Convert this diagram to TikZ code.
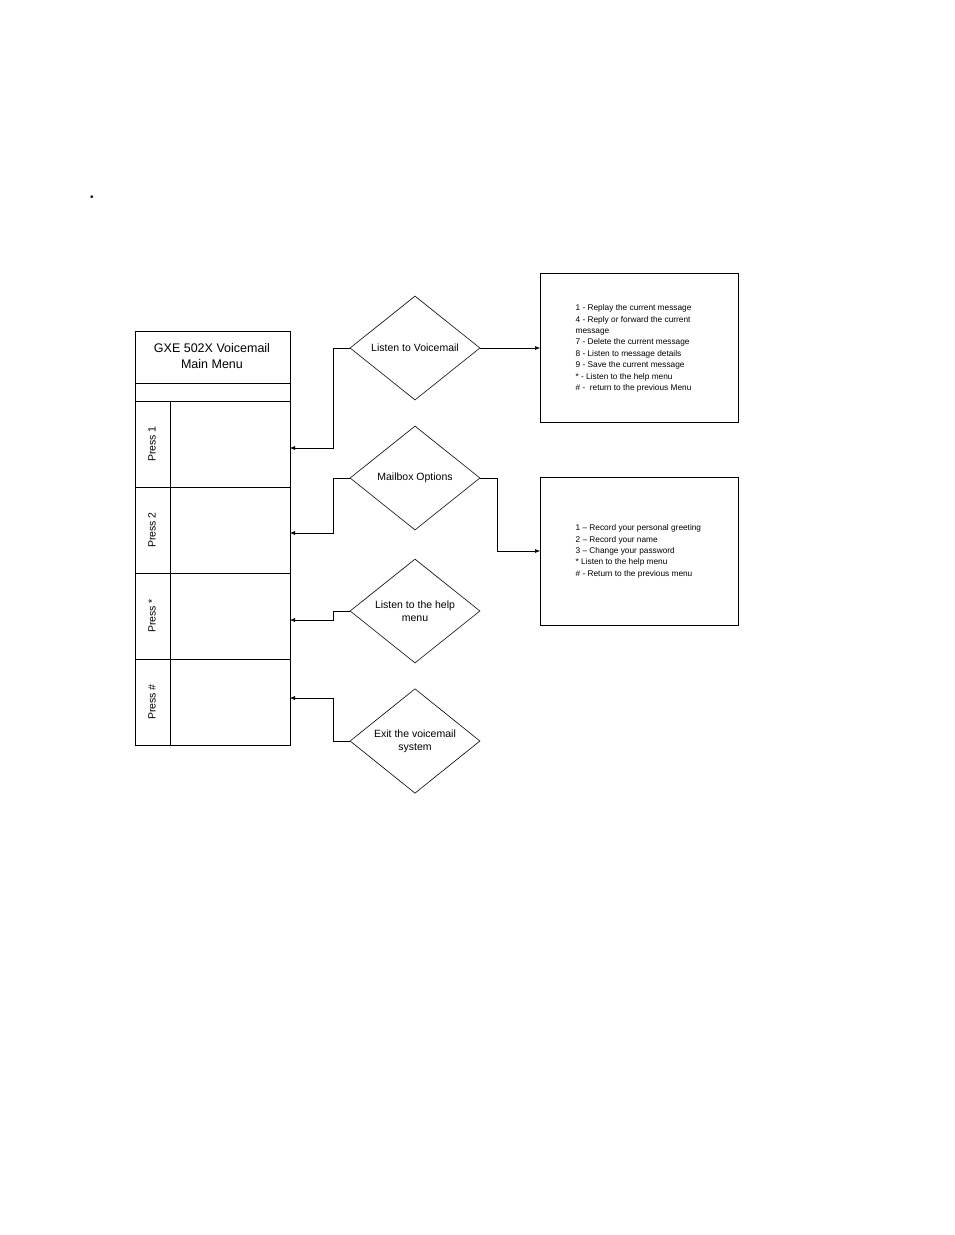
\documentclass[tikz,border=0pt]{standalone}
\usepackage{fontspec}
\setmainfont{Liberation Sans}
\usetikzlibrary{shapes.geometric,arrows.meta}
\tikzset{
	choice/.style={draw,diamond,minimum width=130pt,minimum height=104pt,inner sep=0pt,align=center,font=\fontsize{10.5}{13}\selectfont},
	optbox/.style={draw,minimum width=198pt,anchor=north west,inner sep=0pt},
	optlist/.style={align=left,anchor=north west,font=\fontsize{8.3}{11.4}\selectfont},
	link/.style={-{Latex[length=5pt,width=4pt]},line width=0.5pt}
}
\begin{document}
\begin{tikzpicture}[x=1pt,y=-1pt,line width=0.6pt]
	\useasboundingbox (0,0) rectangle (954,1235);
	\node (dot) at (92,198) {\textbullet};
	% main menu column
	\draw (135,331) rectangle (290,745);
	\draw (135,383) -- (290,383);
	\draw (135,401) -- (290,401);
	\draw (170,401) -- (170,745);
	\foreach \y in {487,573,659}
	{
		\draw (135,\y) -- (290,\y);
	}
	\node[align=center,font=\fontsize{12.5}{16}\selectfont] (title) at (212,356) {GXE 502X Voicemail\\Main Menu};
	\foreach \lbl/\y in {Press 1/444,Press 2/530,Press */616,Press \#/702}
	{
		\node[rotate=90,font=\fontsize{10.5}{13}\selectfont] at (152,\y) {\lbl};
	}
	\coordinate (in1) at (290,448);
	\coordinate (in2) at (290,533);
	\coordinate (in3) at (290,620);
	\coordinate (in4) at (290,698);
	% choices
	\node[choice] (listen) at (415,348) {Listen to Voicemail};
	\node[choice] (mailbox) at (415,478) {\raisebox{0pt}{Mailbox Options}};
	\node[choice] (help) at (415,611) {Listen to the help\\menu};
	\node[choice] (exit) at (415,741) {Exit the voicemail\\system};
	% option boxes
	\node[optbox,minimum height=149pt] (msgbox) at (540,273) {};
	\node[optbox,minimum height=148pt] (mbxbox) at (540,477) {};
	\node[optlist] (msglist) at (572,301) {1 - Replay the current message\\4 - Reply or forward the current\\message\\7 - Delete the current message\\8 - Listen to message details\\9 - Save the current message\\* - Listen to the help menu\\\# -\ \ return to the previous Menu};
	\node[optlist] (mbxlist) at (572,521) {1 -- Record your personal greeting\\2 -- Record your name\\3 -- Change your password\\* Listen to the help menu\\\# - Return to the previous menu};
	% connectors
	\draw[link] (listen.west) -- (333,348) -- (333,448) -- (in1);
	\draw[link] (mailbox.west) -- (333,478) -- (333,533) -- (in2);
	\draw[link] (help.west) -- (333,611) -- (333,620) -- (in3);
	\draw[link] (exit.west) -- (333,741) -- (333,698) -- (in4);
	\draw[link] (listen.east) -- (msgbox.west|-listen.east);
	\draw[link] (mailbox.east) -- (497,478) -- (497,551) -- (mbxbox.west|-{(0,551)});
\end{tikzpicture}
\end{document}
